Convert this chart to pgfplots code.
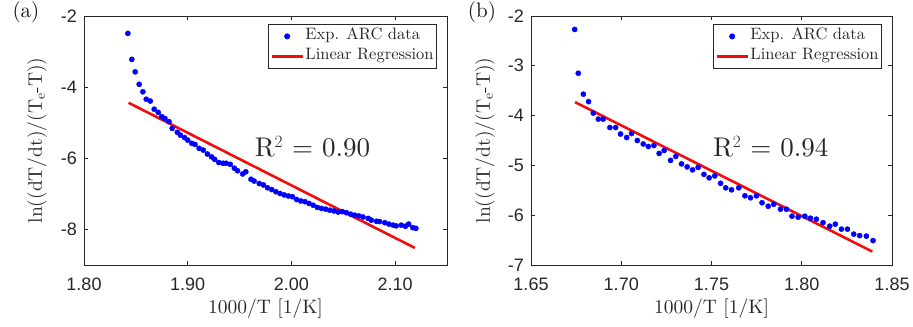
\documentclass[border=0pt]{standalone}
\usepackage{fontspec}
\usepackage{pgfplots}
\usepackage{pgfplotstable}
\pgfplotsset{compat=1.18}
\setmainfont{lmroman10}[Extension=.otf, UprightFont=*-regular, BoldFont=*-bold, ItalicFont=*-italic]
\newfontfamily\ticksf{Liberation Sans}
\definecolor{axgray}{gray}{0.15}
\definecolor{mblue}{rgb}{0,0,1}
\definecolor{mred}{rgb}{0.95,0.05,0.05}

\pgfplotstableread{
x y
1.8423 -2.49
1.8461 -3.22
1.8494 -3.57
1.8532 -3.92
1.8568 -4.13
1.8600 -4.34
1.8639 -4.39
1.8677 -4.62
1.8716 -4.71
1.8750 -4.83
1.8780 -4.88
1.8820 -4.97
1.8850 -5.16
1.8900 -5.27
1.8930 -5.35
1.8970 -5.42
1.9000 -5.49
1.9040 -5.58
1.9070 -5.61
1.9110 -5.72
1.9150 -5.77
1.9190 -5.88
1.9230 -5.96
1.9260 -6.03
1.9300 -6.12
1.9340 -6.14
1.9370 -6.14
1.9410 -6.17
1.9450 -6.28
1.9480 -6.35
1.9530 -6.44
1.9560 -6.38
1.9610 -6.59
1.9640 -6.64
1.9690 -6.71
1.9730 -6.75
1.9770 -6.83
1.9810 -6.88
1.9850 -6.94
1.9890 -6.99
1.9930 -7.03
1.9970 -7.06
2.0010 -7.08
2.0050 -7.16
2.0090 -7.20
2.0130 -7.22
2.0170 -7.27
2.0210 -7.32
2.0250 -7.38
2.0290 -7.41
2.0330 -7.43
2.0370 -7.46
2.0410 -7.48
2.0450 -7.51
2.0490 -7.50
2.0530 -7.53
2.0570 -7.57
2.0610 -7.60
2.0650 -7.62
2.0690 -7.65
2.0740 -7.69
2.0770 -7.74
2.0820 -7.77
2.0850 -7.78
2.0900 -7.81
2.0940 -7.85
2.0980 -7.88
2.1010 -7.90
2.1060 -7.88
2.1100 -7.91
2.1130 -7.85
2.1170 -7.95
2.1200 -7.97
}\dataA

\pgfplotstableread{
x y
1.6742 -2.27
1.6762 -3.15
1.6790 -3.57
1.6819 -3.72
1.6845 -3.95
1.6873 -4.07
1.6900 -4.07
1.6937 -4.24
1.6969 -4.24
1.6996 -4.37
1.7030 -4.44
1.7057 -4.36
1.7089 -4.50
1.7122 -4.57
1.7150 -4.62
1.7181 -4.60
1.7210 -4.76
1.7238 -4.70
1.7273 -4.90
1.7302 -4.82
1.7334 -4.97
1.7365 -5.03
1.7395 -5.09
1.7426 -5.04
1.7458 -5.18
1.7487 -5.25
1.7518 -5.21
1.7550 -5.36
1.7579 -5.45
1.7611 -5.49
1.7651 -5.45
1.7685 -5.61
1.7716 -5.65
1.7749 -5.61
1.7780 -5.75
1.7814 -5.82
1.7845 -5.78
1.7882 -5.88
1.7915 -5.88
1.7946 -6.02
1.7980 -6.04
1.8017 -6.02
1.8048 -6.06
1.8081 -6.08
1.8118 -6.15
1.8155 -6.22
1.8186 -6.18
1.8220 -6.28
1.8253 -6.28
1.8288 -6.38
1.8321 -6.41
1.8358 -6.42
1.8395 -6.51
}\dataB

\pgfplotsset{
  arcstyle/.style={
    scale only axis,
    height=249bp,
    axis line style={axgray, line width=0.7bp},
    every tick/.style={axgray, line width=0.7bp},
    tick align=inside,
    major tick length=4bp,
    tick label style={font=\ticksf\fontsize{18bp}{20bp}\selectfont, text=axgray, inner sep=0pt},
    xticklabel style={anchor=center, yshift=-19bp},
    yticklabel style={anchor=east, xshift=-7bp},
    label style={font=\fontsize{19.5bp}{22bp}\selectfont, text=axgray},
    xlabel style={at={(axis description cs:0.5,0)}, anchor=center, yshift=-44bp},
    xlabel={1000/T [1/K]},
    ylabel={ln((dT/dt)/(T$_{\mathrm{e}}$-T))},
    legend cell align=left,
    legend image code/.code={\draw[mark repeat=2,mark phase=2,##1] plot coordinates {(0bp,0bp) (15.5bp,0bp) (31bp,0bp)};},
    legend style={at={(1,1)}, anchor=north east, xshift=-10bp, yshift=-8bp,
      draw=black!85, line width=0.8bp, inner xsep=1.5bp, inner ysep=3bp,
      font=\fontsize{16.5bp}{19bp}\selectfont, text=black!85,
      nodes={inner sep=1.5bp, text height=11bp, text depth=4bp},
      row sep=2bp},
  },
  dots/.style={only marks, mark=*, mark size=2.6bp, color=mblue, mark options={draw=mblue, fill=mblue}},
  regline/.style={color=mred, line width=2.6bp, no marks},
}

\begin{document}
\begin{tikzpicture}
\useasboundingbox (-84bp,-62bp) rectangle (829bp,265bp);
\begin{axis}[arcstyle,
  at={(0,0)}, anchor=south west,
  width=363bp,
  xmin=1.80, xmax=2.15, ymin=-9, ymax=-2,
  xtick={1.8,1.9,2.0,2.1}, xticklabels={1.80,1.90,2.00,2.10},
  ytick={-8,-6,-4,-2}, yticklabels={-8,-6,-4,-2},
  ylabel style={at={(axis description cs:-0.1295,0.5)}, anchor=center},
]
\addplot[dots] table[x=x,y=y] {\dataA};
\addlegendentry{Exp. ARC data}
\addplot[regline] coordinates {(1.843,-4.44) (2.119,-8.52)};
\addlegendentry{Linear Regression}
\node[font=\fontsize{27bp}{30bp}\selectfont, text=black!85] at (axis cs:2.0203,-5.675) {R$^2$ = 0.90};
\end{axis}
\node[font=\fontsize{21bp}{24bp}\selectfont, text=black!90] at (-58bp,253bp) {(a)};

\begin{axis}[arcstyle,
  at={(447bp,0)}, anchor=south west,
  width=361bp,
  xmin=1.65, xmax=1.85, ymin=-7, ymax=-2,
  xtick={1.65,1.70,1.75,1.80,1.85}, xticklabels={1.65,1.70,1.75,1.80,1.85},
  ytick={-7,-6,-5,-4,-3,-2}, yticklabels={-7,-6,-5,-4,-3,-2},
  ylabel style={at={(axis description cs:-0.1274,0.5)}, anchor=center},
]
\addplot[dots] table[x=x,y=y] {\dataB};
\addlegendentry{Exp. ARC data}
\addplot[regline] coordinates {(1.6744,-3.73) (1.8391,-6.73)};
\addlegendentry{Linear Regression}
\node[font=\fontsize{27bp}{30bp}\selectfont, text=black!85] at (axis cs:1.7828,-4.62) {R$^2$ = 0.94};
\end{axis}
\node[font=\fontsize{21bp}{24bp}\selectfont, text=black!90] at (398bp,253bp) {(b)};
\end{tikzpicture}
\end{document}
